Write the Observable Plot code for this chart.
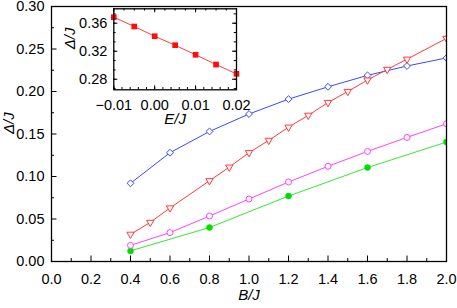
<!DOCTYPE html>
<html><head><meta charset="utf-8">
<script src="https://cdn.jsdelivr.net/npm/d3@7"></script>
<script src="https://cdn.jsdelivr.net/npm/@observablehq/plot@0.6"></script>
<style>
body{margin:0;background:#fff;}
#wrap{position:relative;width:457px;height:308px;font-family:"Liberation Sans",Arial,sans-serif;}
#main{position:absolute;left:0;top:0;}
#inset{position:absolute;left:55px;top:0;}
</style></head><body><div id="wrap"><div id="main"></div><div id="inset"></div></div>
<script>
// ---- main panel data ----
const blueB = [0.4,0.6,0.8,1.0,1.2,1.4,1.6,1.8,2.0];
const blueD = [0.092,0.128,0.153,0.1735,0.191,0.2055,0.219,0.230,0.2395];
const redB  = [0.4,0.5,0.6,0.8,0.9,1.0,1.1,1.2,1.3,1.4,1.5,1.6,1.7,1.8,2.0];
const redD  = [0.032,0.046,0.063,0.095,0.111,0.128,0.1425,0.158,0.172,0.187,0.200,0.2135,0.226,0.238,0.2625];
const magB  = [0.4,0.6,0.8,1.0,1.2,1.4,1.6,1.8,2.0];
const magD  = [0.019,0.034,0.0535,0.0735,0.0935,0.112,0.1295,0.146,0.162];
const grnB  = [0.4,0.8,1.2,1.6,2.0];
const grnD  = [0.0125,0.040,0.077,0.1105,0.1405];
const xTickLabels = [0.0,0.2,0.4,0.6,0.8,1.0,1.2,1.4,1.6,1.8,2.0];
const xMinor = [0.1,0.3,0.5,0.7,0.9,1.1,1.3,1.5,1.7,1.9];
const yTickLabels = [0.00,0.05,0.10,0.15,0.20,0.25,0.30];
const yMinor = [0.025,0.075,0.125,0.175,0.225,0.275];
// ---- inset data ----
const insE = [-0.01,-0.005,0,0.005,0.01,0.015,0.02];
const insD = [0.3686,0.3553,0.3414,0.3286,0.3149,0.301,0.2877];
const insXLabels = [-0.01,0.00,0.01,0.02];
const insXMinorBottom = d3.range(-0.01,0.02001,0.002);
const insXMinorTop = d3.range(-0.01,0.02001,0.0025);
const insYLabels = [0.28,0.32,0.36];
const insYMinor = d3.range(0.28-0.04/3,0.381,0.04/3);

const zip = (a,b)=>a.map((v,i)=>({x:v,y:b[i]}));

const W=457,H=308,mL=51,mR=11,mT=6,mB=47;
const pW=W-mL-mR, pH=H-mT-mB;

function ticksBottom(arr,len,plotH){return Plot.ruleX(arr,{x:d=>d,insetTop:plotH-len,stroke:"black",strokeWidth:1});}
function ticksTop(arr,len,plotH){return Plot.ruleX(arr,{x:d=>d,insetBottom:plotH-len,stroke:"black",strokeWidth:1});}
function ticksLeft(arr,len,plotW){return Plot.ruleY(arr,{y:d=>d,insetRight:plotW-len,stroke:"black",strokeWidth:1});}
function ticksRight(arr,len,plotW){return Plot.ruleY(arr,{y:d=>d,insetLeft:plotW-len,stroke:"black",strokeWidth:1});}

const blue="#3a48ff", red="#ff3a3a", mag="#ff40ff", grn="#33e833";

const main = Plot.plot({
  width:W,height:H,marginLeft:mL,marginRight:mR,marginTop:mT,marginBottom:mB,
  style:{fontFamily:"Liberation Sans, Arial, sans-serif",fontSize:"14px",color:"black",background:"transparent",overflow:"visible"},
  x:{domain:[0,2],axis:null},
  y:{domain:[0,0.30],axis:null},
  marks:[
    ticksBottom(xTickLabels,5.5,pH),
    ticksBottom(xMinor,3,pH),
    ticksLeft(yTickLabels,5.5,pW),
    ticksLeft(yMinor,3,pW),
    Plot.axisX(xTickLabels,{tickSize:0,tickPadding:12,tickFormat:d3.format(".1f"),fontSize:14.5,label:null}),
    Plot.axisY(yTickLabels,{tickSize:0,tickPadding:7,tickFormat:d3.format(".2f"),fontSize:14.5,label:null}),
    Plot.line(zip(grnB,grnD),{x:"x",y:"y",stroke:grn,strokeWidth:1,clip:true}),
    Plot.dot(zip(grnB,grnD),{x:"x",y:"y",symbol:"circle",r:3,fill:"#00dd00",stroke:"#00dd00",strokeWidth:0.5,clip:true}),
    Plot.line(zip(magB,magD),{x:"x",y:"y",stroke:mag,strokeWidth:1,clip:true}),
    Plot.dot(zip(magB,magD),{x:"x",y:"y",symbol:"circle",r:3,fill:"white",stroke:mag,strokeWidth:1,clip:true}),
    Plot.line(zip(blueB,blueD),{x:"x",y:"y",stroke:blue,strokeWidth:1,clip:true}),
    Plot.dot(zip(blueB,blueD),{x:"x",y:"y",symbol:"diamond2",r:3.1,fill:"white",stroke:blue,strokeWidth:1,clip:true}),
    Plot.line(zip(redB,redD),{x:"x",y:"y",stroke:red,strokeWidth:1,clip:true}),
    Plot.dot(zip(redB,redD),{x:"x",y:"y",symbol:"triangle",rotate:180,r:2.7,fill:"white",stroke:red,strokeWidth:1,clip:true}),
    Plot.frame({stroke:"black",strokeWidth:1.3}),
    Plot.text(["Δ/J"],{frameAnchor:"left",dx:-42,rotate:-90,fontStyle:"italic",fontSize:15}),
    Plot.text(["B/J"],{frameAnchor:"bottom",dy:38,fontStyle:"italic",fontSize:15})
  ]
});
document.getElementById("main").appendChild(main);

const iW=190,iH=130,iL=58.3,iR=9,iT=8.3,iB=40.7;
const ipW=iW-iL-iR, ipH=iH-iT-iB;
const inset = Plot.plot({
  width:iW,height:iH,marginLeft:iL,marginRight:iR,marginTop:iT,marginBottom:iB,
  style:{fontFamily:"Liberation Sans, Arial, sans-serif",fontSize:"14.5px",color:"black",background:"transparent",overflow:"visible"},
  x:{domain:[-0.01,0.02],axis:null},
  y:{domain:[0.2649,0.3806],axis:null},
  marks:[
    Plot.frame({fill:"white"}),
    ticksBottom(insXLabels,4,ipH),
    ticksBottom(insXMinorBottom,2.3,ipH),
    ticksTop(insXLabels,4,ipH),
    ticksTop(insXMinorTop,2.3,ipH),
    ticksLeft(insYLabels,4,ipW),
    ticksLeft(insYMinor,2.3,ipW),
    ticksRight(insYLabels,4,ipW),
    ticksRight(insYMinor,2.3,ipW),
    Plot.axisX(insXLabels,{tickSize:0,tickPadding:10,tickFormat:d3.format(".2f"),fontSize:14.5,label:null}),
    Plot.axisY(insYLabels,{tickSize:0,tickPadding:6.5,tickFormat:d3.format(".2f"),fontSize:14.5,label:null}),
    Plot.line(zip(insE,insD),{x:"x",y:"y",stroke:"#ff4040",strokeWidth:1}),
    Plot.dot(zip(insE,insD),{x:"x",y:"y",symbol:"square",r:3.2,fill:"#ff0d0d",stroke:"none"}),
    Plot.frame({stroke:"black",strokeWidth:1.3}),
    Plot.text(["Δ/J"],{frameAnchor:"left",dx:-44,rotate:-90,fontStyle:"italic",fontSize:15}),
    Plot.text(["E/J"],{frameAnchor:"bottom",dy:34,fontStyle:"italic",fontSize:15})
  ]
});
document.getElementById("inset").appendChild(inset);
</script></body></html>
